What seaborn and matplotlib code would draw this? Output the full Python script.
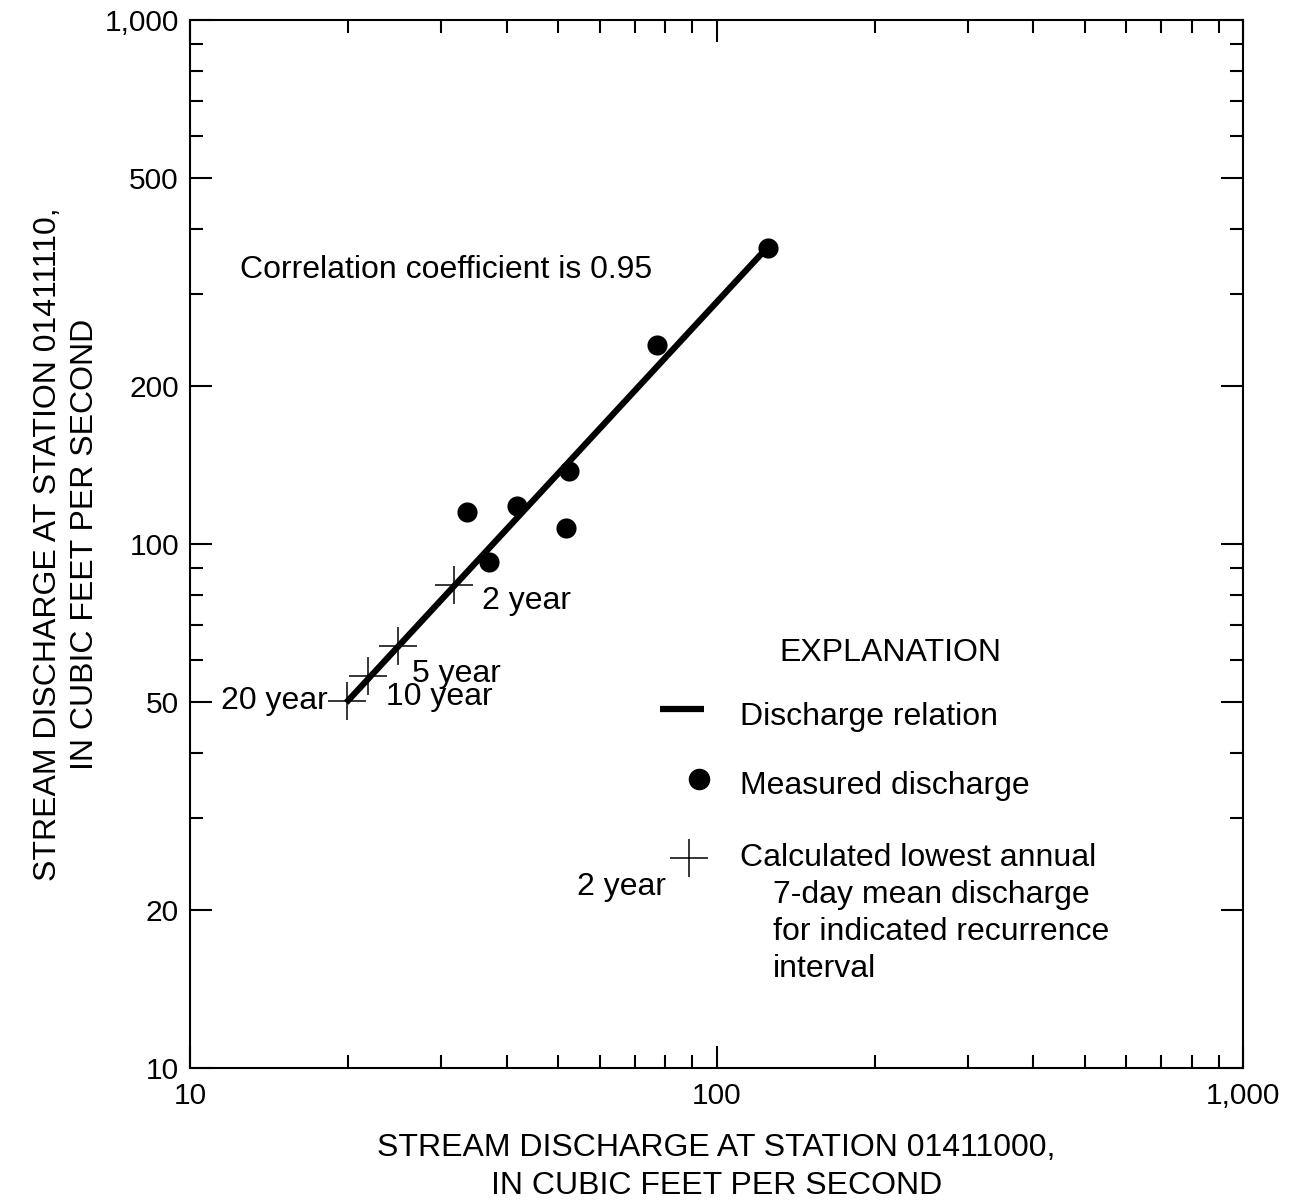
import numpy as np
import pandas as pd
import matplotlib
matplotlib.use("Agg")
import matplotlib.pyplot as plt
from matplotlib.ticker import FixedLocator, NullFormatter
import seaborn as sns

# ---- data ----
measured_x = [125.4, 77.1, 52.5, 51.8, 41.8, 33.6, 37.0]
measured_y = [367.0, 240.0, 137.7, 107.4, 118.0, 115.0, 92.5]

recur_labels = ["2 year", "5 year", "10 year", "20 year"]
recur_x = [31.7, 24.8, 21.8, 19.9]
recur_y = [83.6, 63.8, 56.0, 50.1]

relation_x = [19.8, 123.6]
relation_y = [49.8, 364.0]

x_ticks = [10, 100, 1000]
x_ticklabels = ["10", "100", "1,000"]
y_ticks = [10, 20, 50, 100, 200, 500, 1000]
y_ticklabels = ["10", "20", "50", "100", "200", "500", "1,000"]

sns.set_style("ticks")
plt.rcParams['font.family'] = ['Liberation Sans', 'DejaVu Sans']
plt.rcParams['text.color'] = 'black'
plt.rcParams['axes.labelcolor'] = 'black'
plt.rcParams['xtick.color'] = 'black'
plt.rcParams['ytick.color'] = 'black'

W, H = 1295, 1201
fig = plt.figure(figsize=(W / 100, H / 100), dpi=100)
L, R, T, B = 190, 1243, 20, 1068
ax = fig.add_axes([L / W, (H - B) / H, (R - L) / W, (B - T) / H])
ax.set_xscale("log")
ax.set_yscale("log")
ax.set_xlim(10, 1000)
ax.set_ylim(10, 1000)

def axf(px, py):
    return ((px - L) / (R - L), (B - py) / (B - T))

rel = pd.DataFrame({"x": relation_x, "y": relation_y})
sns.lineplot(data=rel, x="x", y="y", ax=ax, color="black", lw=4.5,
             solid_capstyle="butt")
meas = pd.DataFrame({"x": measured_x, "y": measured_y})
sns.scatterplot(data=meas, x="x", y="y", ax=ax, color="black", s=210,
                marker="o", edgecolor="black", linewidth=0, zorder=5)
rec = pd.DataFrame({"x": recur_x, "y": recur_y, "label": recur_labels})
sns.scatterplot(data=rec, x="x", y="y", ax=ax, color="black", s=750,
                marker="+", linewidth=1.1, zorder=5)

fs = 23
tfs = 21.5
# recurrence labels (offsets in points)
offsets = {"2 year": (20, -12, "left"), "5 year": (10, -20, "left"),
           "10 year": (13, -15, "left"), "20 year": (-14, 0, "right")}
for lab, xv, yv in zip(recur_labels, recur_x, recur_y):
    dx, dy, ha = offsets[lab]
    ax.annotate(lab, (xv, yv), xytext=(dx, dy), textcoords="offset points",
                ha=ha, va="center", fontsize=fs)

ax.text(*axf(240, 270), "Correlation coefficient is 0.95", transform=ax.transAxes,
        ha="left", va="center", fontsize=fs)

# explanation block
ax.text(*axf(890, 653), "EXPLANATION", transform=ax.transAxes, ha="center",
        va="center", fontsize=fs)
x0, y0 = axf(660, 709)
x1, _ = axf(704, 709)
ax.plot([x0, x1], [y0, y0], transform=ax.transAxes, color="black", lw=4.5,
        solid_capstyle="butt", clip_on=False)
ax.plot(*axf(699, 779), transform=ax.transAxes, marker="o", ms=14.5, color="black",
        ls="none", clip_on=False)
ax.plot(*axf(689, 858), transform=ax.transAxes, marker="+", ms=27, mew=1.1,
        color="black", ls="none", clip_on=False)
ax.text(*axf(666, 887), "2 year", transform=ax.transAxes, ha="right", va="center",
        fontsize=fs)
ax.text(*axf(740, 717), "Discharge relation", transform=ax.transAxes, ha="left",
        va="center", fontsize=fs)
ax.text(*axf(740, 786), "Measured discharge", transform=ax.transAxes, ha="left",
        va="center", fontsize=fs)
ax.text(*axf(740, 858), "Calculated lowest annual", transform=ax.transAxes,
        ha="left", va="center", fontsize=fs)
for i, line in enumerate(["7-day mean discharge", "for indicated recurrence",
                          "interval"]):
    ax.text(*axf(773, 895 + 37 * i), line, transform=ax.transAxes, ha="left",
            va="center", fontsize=fs)

# axes styling
ax.xaxis.set_major_locator(FixedLocator(x_ticks))
ax.xaxis.set_minor_locator(FixedLocator([m * d for d in (10, 100) for m in range(2, 10)]))
ax.set_xticklabels(x_ticklabels)
ax.xaxis.set_minor_formatter(NullFormatter())
ax.yaxis.set_major_locator(FixedLocator(y_ticks))
ax.yaxis.set_minor_locator(FixedLocator([m * d for d in (10, 100) for m in (3, 4, 6, 7, 8, 9)]))
ax.set_yticklabels(y_ticklabels)
ax.yaxis.set_minor_formatter(NullFormatter())

ax.tick_params(which="both", direction="in", top=True, right=True,
               labelsize=tfs, width=1.5, color="black", labelcolor="black")
ax.tick_params(which="major", length=16)
ax.tick_params(which="minor", length=9.5)
ax.tick_params(axis="x", which="major", pad=10)
ax.tick_params(axis="y", which="major", pad=8)
for sp in ax.spines.values():
    sp.set_visible(True)
    sp.set_linewidth(1.5)
    sp.set_color("black")

ax.set_xlabel("STREAM DISCHARGE AT STATION 01411000,\nIN CUBIC FEET PER SECOND",
              fontsize=fs, labelpad=17, linespacing=1.32)
ax.set_ylabel("STREAM DISCHARGE AT STATION 01411110,\nIN CUBIC FEET PER SECOND",
              fontsize=fs, labelpad=3, linespacing=1.32)
ax.set_facecolor("white")
fig.patch.set_facecolor("white")
fig.savefig("out.png", dpi=100, facecolor="white")
